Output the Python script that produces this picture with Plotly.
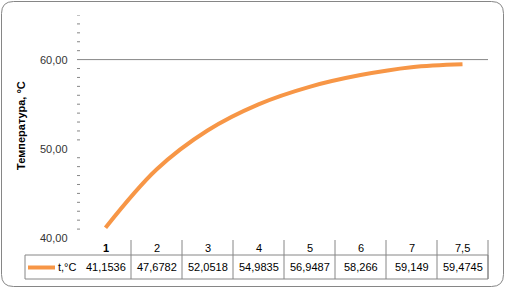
import plotly.graph_objects as go

categories = ["1", "2", "3", "4", "5", "6", "7", "7,5"]
values = [41.1536, 47.6782, 52.0518, 54.9835, 56.9487, 58.266, 59.149, 59.4745]
value_labels = ["41,1536", "47,6782", "52,0518", "54,9835", "56,9487", "58,266", "59,149", "59,4745"]
series_name = "t,°C"
y_ticks = [40, 50, 60]
y_tick_labels = ["40,00", "50,00", "60,00"]
y_title = "Температура, °C"

W, H = 505, 289
L, R, T, B = 80, 488, 15, 238
PW, PH = R - L, B - T

def px(x):
    return (x - L) / PW

def py(y):
    return (B - y) / PH

ORANGE = "#F79646"
GRAY = "#868686"
FONT = "Liberation Sans"
n = len(categories)
idx = list(range(n))

fig = go.Figure()
fig.add_trace(go.Scatter(x=idx, y=values, mode="lines",
                         line=dict(color=ORANGE, width=4, shape="spline", smoothing=1.0),
                         showlegend=False, hoverinfo="skip"))

shapes = []
annotations = []

# chart border (rounded)
x0, y0, x1, y1, r = 1.5, 1.5, 503.5, 286.5, 12
path = (f"M {px(x0 + r)},{py(y0)} L {px(x1 - r)},{py(y0)} Q {px(x1)},{py(y0)} {px(x1)},{py(y0 + r)} "
        f"L {px(x1)},{py(y1 - r)} Q {px(x1)},{py(y1)} {px(x1 - r)},{py(y1)} "
        f"L {px(x0 + r)},{py(y1)} Q {px(x0)},{py(y1)} {px(x0)},{py(y1 - r)} "
        f"L {px(x0)},{py(y0 + r)} Q {px(x0)},{py(y0)} {px(x0 + r)},{py(y0)} Z")
shapes.append(dict(type="path", xref="paper", yref="paper", path=path,
                   line=dict(color=GRAY, width=1), layer="below"))

# gridline at 60
shapes.append(dict(type="line", xref="paper", yref="y", x0=px(77), x1=1, y0=60, y1=60,
                   line=dict(color=GRAY, width=1)))

# minor tick marks on y axis
for v in range(41, 66):
    if v in (50, 60):
        continue
    shapes.append(dict(type="line", xref="paper", yref="y", x0=px(77), x1=px(80), y0=v, y1=v,
                       line=dict(color=GRAY, width=1)))

# y tick labels
for v, t in zip(y_ticks, y_tick_labels):
    annotations.append(dict(x=px(70), y=v, xref="paper", yref="y", text=t, showarrow=False,
                            xanchor="right", yanchor="middle",
                            font=dict(family=FONT, size=11, color="#333333")))

# y title
annotations.append(dict(x=px(21), y=py(125), xref="paper", yref="paper", text="<b>" + y_title + "</b>",
                        showarrow=False, textangle=-90, xanchor="center", yanchor="middle",
                        font=dict(family=FONT, size=11, color="#000000")))

# data table
cw = PW / n
hy0, hy1 = 240, 255
ry0, ry1 = 255, 279
tl = 25
for i in range(1, n + 1):
    xb = L + i * cw
    shapes.append(dict(type="line", xref="paper", yref="paper", x0=px(xb), x1=px(xb),
                       y0=py(hy0), y1=py(ry1), line=dict(color=GRAY, width=1)))
shapes.append(dict(type="rect", xref="paper", yref="paper", x0=px(tl), x1=1,
                   y0=py(ry0), y1=py(ry1), line=dict(color=GRAY, width=1)))
# legend key
shapes.append(dict(type="line", xref="paper", yref="paper", x0=px(28), x1=px(55),
                   y0=py(267.5), y1=py(267.5), line=dict(color=ORANGE, width=4)))
annotations.append(dict(x=px(56), y=py(267), xref="paper", yref="paper", text=series_name,
                        showarrow=False, xanchor="left", yanchor="middle",
                        font=dict(family=FONT, size=11, color="#000000")))
for i, (c, v) in enumerate(zip(categories, value_labels)):
    xc = px(L + (i + 0.5) * cw)
    ctext = "<b>" + c + "</b>" if i == 0 else c
    annotations.append(dict(x=xc, y=py(248), xref="paper", yref="paper", text=ctext,
                            showarrow=False, xanchor="center", yanchor="middle",
                            font=dict(family=FONT, size=11, color="#000000")))
    annotations.append(dict(x=xc, y=py(267), xref="paper", yref="paper", text=v,
                            showarrow=False, xanchor="center", yanchor="middle",
                            font=dict(family=FONT, size=11, color="#000000")))

fig.update_layout(
    width=W, height=H,
    margin=dict(l=L, r=W - R, t=T, b=H - B),
    paper_bgcolor="white", plot_bgcolor="white",
    xaxis=dict(range=[-0.5, n - 0.5], visible=False, fixedrange=True),
    yaxis=dict(range=[40, 65], visible=False, fixedrange=True),
    shapes=shapes, annotations=annotations,
    showlegend=False,
)
fig.write_html("out.html", config=dict(displayModeBar=False))
